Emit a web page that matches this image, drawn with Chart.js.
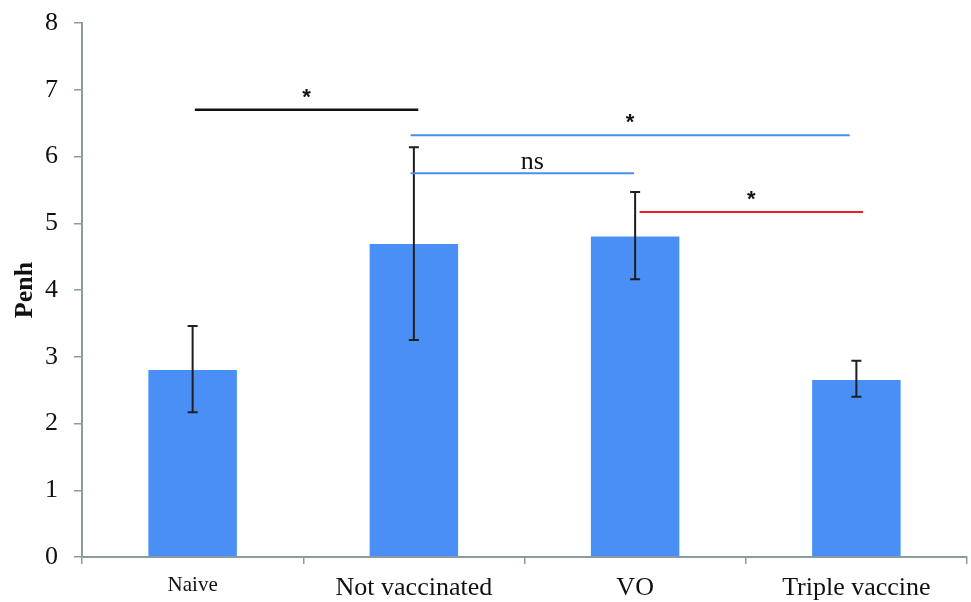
<!DOCTYPE html>
<html><head><meta charset="utf-8">
<script src="https://cdn.jsdelivr.net/npm/chart.js@4/dist/chart.umd.min.js"></script>
<style>html,body{margin:0;padding:0;background:#fff}#wrap{width:971px;height:602px}</style>
</head><body><div id="wrap"><canvas id="c"></canvas></div>
<script>
const categories = ['Naive', 'Not vaccinated', 'VO', 'Triple vaccine'];
const penh = [2.80, 4.69, 4.80, 2.65];
const errLow = [2.17, 3.25, 4.16, 2.40];
const errHigh = [3.46, 6.14, 5.47, 2.94];
const yTicks = [0, 1, 2, 3, 4, 5, 6, 7, 8];
// significance brackets: from index, to index, y value, label, colour
const sigFrom = [0.01, 0.985, 0.985, 2.02];
const sigTo = [1.02, 2.97, 1.995, 3.03];
const sigY = [6.70, 6.32, 5.75, 5.17];
const sigLabel = ['*', '*', 'ns', '*'];
const sigColor = ['#111111', '#4a8fe8', '#4a8fe8', '#e82020'];

const serif = "'Liberation Serif', 'Times New Roman', serif";

const overlay = {
  id: 'overlay',
  afterDatasetsDraw(chart) {
    const {ctx, scales: {x, y}} = chart;
    ctx.save();
    // error bars
    ctx.strokeStyle = '#1e1e1e';
    ctx.lineWidth = 2;
    for (let i = 0; i < categories.length; i++) {
      const px = x.getPixelForValue(i);
      const t = y.getPixelForValue(errHigh[i]);
      const b = y.getPixelForValue(errLow[i]);
      ctx.beginPath();
      ctx.moveTo(px, t); ctx.lineTo(px, b);
      ctx.moveTo(px - 5, t); ctx.lineTo(px + 5, t);
      ctx.moveTo(px - 5, b); ctx.lineTo(px + 5, b);
      ctx.stroke();
    }
    // significance lines
    for (let i = 0; i < sigY.length; i++) {
      const x1 = x.getPixelForDecimal((sigFrom[i] + 0.5) / categories.length);
      const x2 = x.getPixelForDecimal((sigTo[i] + 0.5) / categories.length);
      const py = y.getPixelForValue(sigY[i]);
      ctx.strokeStyle = sigColor[i];
      ctx.lineWidth = i === 0 ? 2.5 : 2;
      ctx.beginPath();
      ctx.moveTo(x1, py); ctx.lineTo(x2, py);
      ctx.stroke();
      ctx.fillStyle = '#111';
      ctx.textAlign = 'center';
      if (sigLabel[i] === '*') {
        ctx.font = "bold 22px 'Liberation Sans', Arial, sans-serif";
        ctx.textBaseline = 'middle';
        ctx.fillText('*', (x1 + x2) / 2, py - 12);
      } else {
        ctx.font = '26px ' + serif;
        ctx.textBaseline = 'alphabetic';
        ctx.fillText(sigLabel[i], (x1 + x2) / 2 + 10, py - 4);
      }
    }
    ctx.restore();
  }
};

new Chart(document.getElementById('c'), {
  type: 'bar',
  data: {
    labels: categories,
    datasets: [{
      data: penh,
      backgroundColor: '#4a8ff5',
      borderWidth: 0,
      barPercentage: 0.4,
      categoryPercentage: 1.0
    }]
  },
  options: {
    responsive: true,
    maintainAspectRatio: false,
    animation: false,
    layout: {padding: {top: 23, right: 4, left: 0, bottom: 0}},
    plugins: {legend: {display: false}, tooltip: {enabled: false}},
    scales: {
      x: {
        grid: {display: true, drawOnChartArea: false, offset: true, tickLength: 7, color: '#8c9c9c', lineWidth: 1.5},
        border: {color: '#8c9c9c', width: 2},
        ticks: {
          color: '#111',
          padding: 9,
          font: (c) => ({family: serif, size: c.index === 0 ? 21 : 26})
        },
        afterFit(s) { s.height = 45; s.paddingLeft = 0; s.paddingRight = 0; }
      },
      y: {
        min: 0, max: 8,
        afterBuildTicks(s) { s.ticks = yTicks.map(v => ({value: v})); },
        grid: {display: true, drawOnChartArea: false, tickLength: 8, color: '#8c9c9c', lineWidth: 1.5},
        border: {color: '#8c9c9c', width: 2},
        ticks: {color: '#111', padding: 16, font: {family: serif, size: 26}},
        title: {display: true, text: 'Penh', color: '#111', font: {family: serif, size: 26, weight: 'bold'}, padding: {top: 10, bottom: 0}},
        afterFit(s) { s.width = 82; s.paddingTop = 0; s.paddingBottom = 0; }
      }
    }
  },
  plugins: [overlay]
});
</script>
</body></html>
